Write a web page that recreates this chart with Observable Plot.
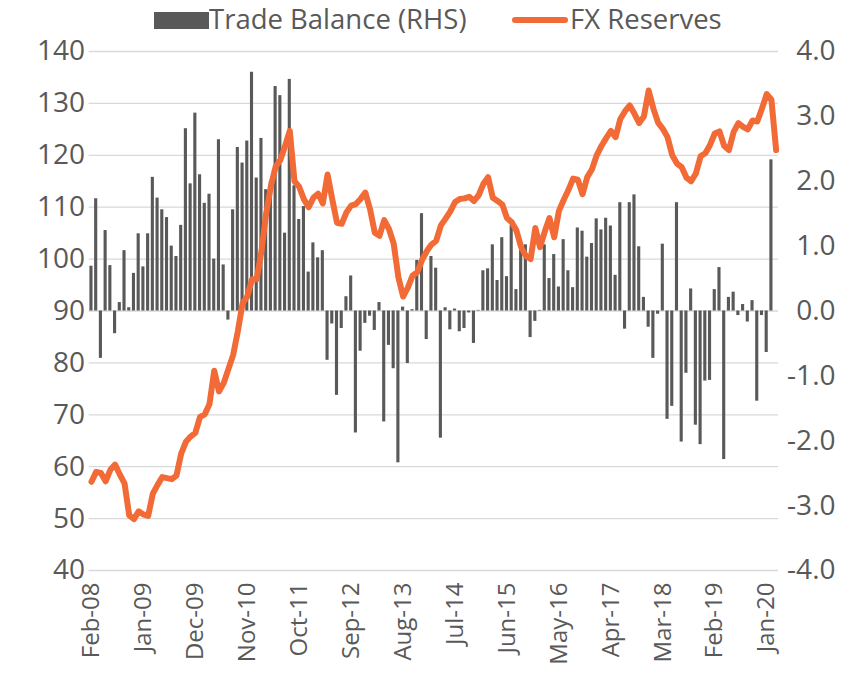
<!DOCTYPE html>
<html>
<head>
<meta charset="utf-8">
<script src="https://cdn.jsdelivr.net/npm/d3@7"></script>
<script src="https://cdn.jsdelivr.net/npm/@observablehq/plot@0.6"></script>
<style>
  html, body { margin: 0; padding: 0; background: #ffffff; }
  #wrap { width: 853px; height: 687px; position: relative; overflow: hidden; }
  #legend { position: relative; width: 853px; height: 40px; font-family: "Open Sans", sans-serif; font-size: 27.5px; color: #595959; }
  #legend .sw { position: absolute; }
  #legend .tx { position: absolute; top: 1px; line-height: 36px; white-space: nowrap; }
  svg { overflow: visible; }
</style>
</head>
<body>
<div id="wrap">
  <div id="legend">
    <span class="sw" style="left:154px;top:12px;width:55px;height:17px;background:#595959"></span>
    <span class="tx" style="left:209px">Trade Balance (RHS)</span>
    <span class="sw" style="left:512px;top:17px;width:56px;height:6px;border-radius:3px;background:#f26a36"></span>
    <span class="tx" style="left:570px">FX Reserves</span>
  </div>
  <div id="chart"></div>
</div>
<script>
// Category axis: monthly, Feb-08 .. Mar-20
const months = d3.utcMonth.range(new Date(Date.UTC(2008, 1, 1)), new Date(Date.UTC(2020, 3, 1)));
const tickLabels = ["Feb-08","Jan-09","Dec-09","Nov-10","Oct-11","Sep-12","Aug-13","Jul-14","Jun-15","May-16","Apr-17","Mar-18","Feb-19","Jan-20"];
const leftTicks = [40, 50, 60, 70, 80, 90, 100, 110, 120, 130, 140];
const rightTicks = [-4, -3, -2, -1, 0, 1, 2, 3, 4];

// Trade balance (right axis), Feb-08 .. Feb-20
const tradeBalance = [
  0.69, 1.73, -0.73, 1.24, 0.70, -0.35, 0.13, 0.93, 0.05, 0.58,
  1.19, 0.68, 1.19, 2.06, 1.74, 1.56, 1.44, 1.00, 0.84, 1.32,
  2.81, 1.96, 3.05, 2.10, 1.66, 1.80, 0.80, 2.64, 0.71, -0.14,
  1.56, 2.52, 2.28, 2.62, 3.68, 2.05, 2.66, 1.87, 2.00, 3.46,
  3.32, 1.20, 3.57, 1.93, 1.41, 1.61, 0.60, 1.05, 0.82, 0.93,
  -0.76, -0.20, -1.30, -0.27, 0.22, 0.54, -1.88, -0.62, -0.19, -0.08,
  -0.30, 0.13, -1.71, -0.53, -0.89, -2.34, 0.06, -0.81, 0.02, 0.78,
  1.50, -0.44, 0.84, 0.66, -1.96, 0.05, -0.29, 0.03, -0.32, -0.27,
  -0.03, -0.50, 0.01, 0.62, 0.65, 1.02, 0.47, 1.13, 0.53, 1.32,
  0.33, 1.00, 1.02, -0.41, -0.16, 0.01, 1.02, 0.50, 0.87, 0.37,
  1.10, 0.62, 0.36, 1.28, 1.23, 0.83, 1.04, 1.42, 1.25, 1.43,
  1.31, 0.55, 1.67, -0.28, 1.67, 1.79, 0.99, 0.21, -0.25, -0.73,
  -0.05, 1.03, -1.67, -1.47, 1.67, -2.02, -0.96, 0.34, -1.76, -2.06,
  -1.08, -1.07, 0.33, 0.67, -2.29, 0.21, 0.29, -0.07, 0.10, -0.17,
  0.16, -1.39, -0.07, -0.64, 2.33
];

// FX reserves (left axis), Feb-08 .. Mar-20
const fxReserves = [
  57.1, 59.0, 58.8, 57.2, 59.4, 60.4, 58.5, 56.8, 50.6, 49.9,
  51.4, 50.8, 50.5, 54.8, 56.5, 58.0, 57.8, 57.6, 58.3, 62.5,
  64.8, 65.8, 66.5, 69.6, 70.1, 72.1, 78.5, 74.5, 76.1, 78.8,
  81.5, 86.1, 91.5, 92.8, 96.1, 96.1, 101.5, 108.8, 114.1, 117.8,
  119.1, 121.8, 124.7, 115.0, 113.9, 111.5, 110.0, 111.8, 112.6, 110.7,
  116.3, 111.5, 107.0, 106.8, 109.0, 110.3, 110.6, 111.6, 112.8, 109.6,
  105.1, 104.5, 107.5, 105.8, 103.0, 96.5, 92.8, 94.5, 96.8, 97.5,
  99.8, 101.5, 102.8, 103.5, 106.5, 107.8, 109.2, 111.0, 111.6, 111.7,
  112.0, 111.2, 112.3, 114.5, 115.8, 111.8, 111.2, 110.5, 107.9, 107.1,
  105.5, 102.3, 100.6, 100.0, 106.0, 102.3, 105.3, 107.9, 104.2, 109.3,
  111.4, 113.3, 115.5, 115.3, 112.5, 115.8, 117.3, 120.0, 121.8, 123.3,
  124.7, 123.5, 127.0, 128.5, 129.6, 128.0, 126.2, 127.5, 132.5, 129.0,
  126.3, 125.1, 123.5, 120.0, 118.4, 117.7, 115.7, 115.0, 116.5, 119.8,
  120.4, 122.0, 124.2, 124.6, 121.8, 121.0, 124.5, 126.2, 125.5, 125.0,
  126.7, 126.5, 129.0, 131.8, 130.7, 121.0
];

// right axis value -> left axis units (0.0 <-> 90, 4.0 <-> 140)
const toLeft = v => 90 + v * 12.5;

const tbData = tradeBalance.map((v, i) => ({i, month: months[i], v}));
const fxData = fxReserves.map((v, i) => ({i, month: months[i], v}));
const tickIdx = tickLabels.map((_, k) => k * 11);

const chart = Plot.plot({
  width: 853,
  height: 647,
  marginLeft: 88.6,
  marginRight: 75,
  marginTop: 11,
  marginBottom: 117,
  style: {fontFamily: "'Open Sans', sans-serif", fontSize: "24px", color: "#595959", background: "transparent"},
  x: {type: "linear", domain: [-0.5, months.length - 0.5]},
  y: {domain: [40, 140]},
  marks: [
    Plot.gridY(leftTicks, {stroke: "#d9d9d9", strokeOpacity: 1, strokeWidth: 1.3}),
    Plot.rectY(tbData, {x1: d => d.i - 0.33, x2: d => d.i + 0.33, y1: 90, y2: d => toLeft(d.v), fill: "#595959"}),
    Plot.line(fxData, {x: "i", y: "v", stroke: "#f26a36", strokeWidth: 6, strokeLinejoin: "round", strokeLinecap: "round"}),
    Plot.axisY(leftTicks, {anchor: "left", tickSize: 0, tickPadding: 4, fontSize: 28, tickFormat: d => String(d), label: null}),
    Plot.axisY(rightTicks.map(toLeft), {anchor: "right", tickSize: 0, tickPadding: 57, textAnchor: "end", fontSize: 28, tickFormat: d => ((d - 90) / 12.5).toFixed(1), label: null}),
    Plot.axisX(tickIdx, {anchor: "bottom", tickSize: 0, tickPadding: 12, tickRotate: -90, tickFormat: d => tickLabels[d / 11], label: null})
  ]
});
document.getElementById("chart").appendChild(chart);
</script>
</body>
</html>
